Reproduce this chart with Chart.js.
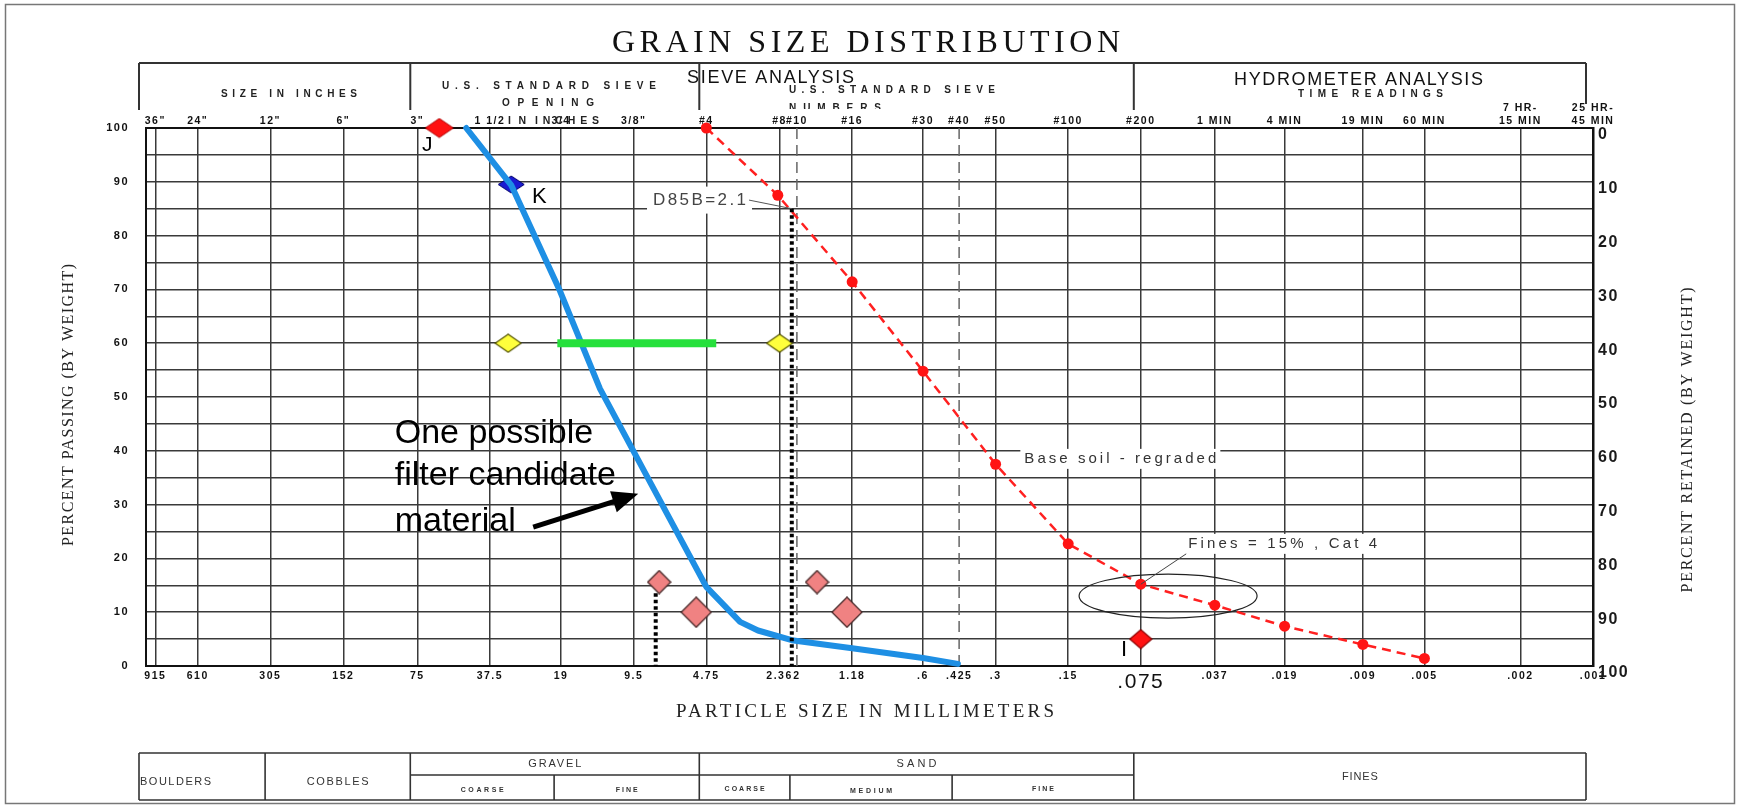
<!DOCTYPE html>
<html><head><meta charset="utf-8">
<style>html,body{margin:0;padding:0;background:#fff}canvas{display:block}</style>
<script src="https://cdn.jsdelivr.net/npm/chart.js@4.4.1/dist/chart.umd.min.js"></script>
</head><body>
<canvas id="c" width="1741" height="805"></canvas>
<script>
// ---------- data ----------
const sieveSizes = [915,610,305,152,75,37.5,19,9.5,4.75,2.36,2,1.18,0.6,0.425,0.3,0.15,0.075,0.037,0.019,0.009,0.005,0.002,0.001];
const mmLabels = ['915','610','305','152','75','37.5','19','9.5','4.75','2.36','2','1.18','.6','.425','.3','.15','.075','.037','.019','.009','.005','.002','.001'];
const sieveLabels = ['36"','24"','12"','6"','3"','1 1/2','3/4','3/8"','#4','#8','#10','#16','#30','#40','#50','#100','#200','1 MIN','4 MIN','19 MIN','60 MIN',['7 HR-','15 MIN'],['25 HR-','45 MIN']];
const dashedSizes = [2, 0.425];

const filterSize    = [47, 30.6, 19.2, 13.1, 4.75, 3.44, 2.9, 2.1, 1.18, 0.6, 0.43];
const filterPassing = [100, 89.4, 69.7, 51.5, 14.7, 8.2, 6.6, 4.8, 3.3, 1.5, 0.4];

const baseSize    = [4.75, 2.4, 1.18, 0.6, 0.3, 0.15, 0.075, 0.037, 0.019, 0.009, 0.005];
const basePassing = [100, 87.5, 71.4, 54.8, 37.5, 22.7, 15.2, 11.3, 7.4, 4.0, 1.4];

const jSize = [60.8], jPassing = [100];
const kSize = [30.6], kPassing = [89.5];
const iSize = [0.075], iPassing = [5];
const yellowSize = [31.5, 2.36], yellowPassing = [60, 60];
const greenSize = [19.7, 4.32], greenPassing = [60, 60];
const pinkSize = [7.45, 5.23, 1.65, 1.24], pinkPassing = [15.6, 10, 15.6, 10];
const d85Size = [2.1, 2.1], d85Passing = [85, 0];
const d15Size = [7.7, 7.7], d15Passing = [13.5, 0];

const headerBounds = [1000, 75, 4.75, 0.075, 0.001];
const tableBounds = [1000, 300, 75, 19, 4.75, 2, 0.425, 0.075, 0.001];

// ---------- helpers ----------
const FONT = 'Liberation Sans';
const SERIF = 'Liberation Serif';
const xy = (xs, ys) => xs.map((x, i) => ({x, y: ys[i]}));

function diamond(w, h, fill, stroke, lw) {
  const c = document.createElement('canvas');
  c.width = w + 2; c.height = h + 2;
  const g = c.getContext('2d');
  const cx = c.width / 2, cy = c.height / 2;
  g.beginPath();
  g.moveTo(cx - w / 2, cy); g.lineTo(cx, cy - h / 2); g.lineTo(cx + w / 2, cy); g.lineTo(cx, cy + h / 2); g.closePath();
  g.fillStyle = fill; g.fill();
  if (stroke) { g.strokeStyle = stroke; g.lineWidth = lw; g.stroke(); }
  return c;
}
const dJ = diamond(28, 19, '#ff1212', '#b00000', 1);
const dK = diamond(26, 17, '#1a1ad2', '#00006a', 1);
const dY = diamond(26, 18, '#ffff3c', '#555500', 1.2);
const dI = diamond(22, 19, '#ff1212', '#8a0000', 1.2);
const dPs = diamond(23, 23, '#f08282', '#4a2a2a', 1.3);
const dPl = diamond(30, 30, '#f08282', '#4a2a2a', 1.3);

function text(ctx, s, x, y, o = {}) {
  ctx.save();
  ctx.translate(x, y);
  if (o.rot) ctx.rotate(o.rot);
  ctx.font = o.font || ('10px ' + FONT);
  ctx.textBaseline = o.base || 'middle';
  ctx.textAlign = 'left';
  ctx.letterSpacing = '0px';
  const w0 = ctx.measureText(s).width;
  const n = s.length;
  let sp = o.spacing || 0;
  if (o.width) sp = (o.width - w0) / Math.max(1, n - 1);
  ctx.letterSpacing = sp + 'px';
  const total = w0 + sp * (n - 1);
  let x0 = 0;
  if (o.align === 'center') x0 = -total / 2; else if (o.align === 'right') x0 = -total;
  if (o.bg) {
    ctx.fillStyle = o.bg;
    ctx.fillRect(x0 - o.padX, -o.bgH / 2, total + 2 * o.padX, o.bgH);
  }
  ctx.fillStyle = o.color || '#111';
  ctx.fillText(s, x0, 0);
  ctx.restore();
  return {left: x + x0, right: x + x0 + total};
}

// ---------- plugins ----------
const spacingPlugin = {
  id: 'spacing',
  beforeDraw(chart) {
    const ctx = chart.ctx;
    ctx.save(); ctx.fillStyle = '#fff'; ctx.fillRect(0, 0, chart.width, chart.height); ctx.restore();
    ctx.letterSpacing = '1.5px';
  },
  afterDraw(chart) { chart.ctx.letterSpacing = '0px'; }
};

const annotPlugin = {
  id: 'annot',
  afterDatasetsDraw(chart) {
    const ctx = chart.ctx, X = chart.scales.x, Y = chart.scales.y;
    const px = v => X.getPixelForValue(v), py = v => Y.getPixelForValue(v);
    ctx.save();
    ctx.letterSpacing = '0px';
    // ellipse round the fines point
    ctx.beginPath();
    ctx.ellipse(px(0.0578), py(13), 89, 22, 0, 0, Math.PI * 2);
    ctx.strokeStyle = '#222'; ctx.lineWidth = 1.2; ctx.stroke();

    // D85 label
    const d = text(ctx, 'D85B=2.1', px(7.9), py(86.6), {font: '17px ' + FONT, width: 93, color: '#444', bg: '#fff', padX: 6, bgH: 27});
    ctx.beginPath(); ctx.moveTo(d.right + 3, py(86.6)); ctx.lineTo(px(2.1), py(85));
    ctx.strokeStyle = '#555'; ctx.lineWidth = 1; ctx.stroke();

    // base soil label
    text(ctx, 'Base soil - regraded', px(0.228), py(38.5), {font: '15px ' + FONT, width: 192, color: '#333', bg: '#fff', padX: 4, bgH: 20});
    // fines label
    const f = text(ctx, 'Fines = 15% , Cat 4', px(0.0477), py(22.7), {font: '15px ' + FONT, width: 189, color: '#333', bg: '#fff', padX: 4, bgH: 20});
    ctx.beginPath(); ctx.moveTo(f.left - 2, py(22.7) + 10); ctx.lineTo(px(0.075), py(15.2));
    ctx.strokeStyle = '#444'; ctx.lineWidth = 1; ctx.stroke();

    // big text
    const lines = ['One possible', 'filter candidate', 'material'];
    const base = [41.4, 33.6, 25.1];
    lines.forEach((s, i) => text(ctx, s, px(93), py(base[i]), {font: '34px ' + FONT, base: 'alphabetic', color: '#000'}));

    // arrow
    const tx = px(24.8), ty = py(25.8), hx = px(9.1), hy = py(32);
    const L = Math.hypot(hx - tx, hy - ty), ux = (hx - tx) / L, uy = (hy - ty) / L;
    ctx.beginPath(); ctx.moveTo(tx, ty); ctx.lineTo(hx - ux * 20, hy - uy * 20);
    ctx.strokeStyle = '#000'; ctx.lineWidth = 5; ctx.stroke();
    ctx.beginPath(); ctx.moveTo(hx, hy);
    ctx.lineTo(hx - ux * 26 - uy * 11, hy - uy * 26 + ux * 11);
    ctx.lineTo(hx - ux * 26 + uy * 11, hy - uy * 26 - ux * 11);
    ctx.closePath(); ctx.fillStyle = '#000'; ctx.fill();

    // point letters
    text(ctx, 'J', px(68.2), py(96.8), {font: '21px ' + FONT, align: 'center', color: '#000'});
    text(ctx, 'K', px(23.4), py(87.2), {font: '22px ' + FONT, align: 'center', color: '#000'});
    text(ctx, 'I', px(0.0879), py(3), {font: '22px ' + FONT, align: 'center', color: '#000'});
    ctx.restore();
  }
};

const furniturePlugin = {
  id: 'furniture',
  afterDraw(chart) {
    const ctx = chart.ctx, X = chart.scales.x;
    const SHIFT = -7;
    const bx = v => X.getPixelForValue(v) + SHIFT;
    ctx.save();
    ctx.letterSpacing = '0px';
    // frame
    ctx.strokeStyle = '#777'; ctx.lineWidth = 1.5;
    ctx.strokeRect(5.5, 4.5, 1729, 799);

    // title
    text(ctx, 'GRAIN SIZE DISTRIBUTION', 612, 44, {font: '32px ' + SERIF, width: 508, color: '#111'});

    // header box
    ctx.strokeStyle = '#333'; ctx.lineWidth = 2;
    ctx.beginPath();
    ctx.moveTo(bx(headerBounds[0]), 63); ctx.lineTo(bx(headerBounds[headerBounds.length - 1]), 63);
    headerBounds.forEach((b, i) => {
      ctx.moveTo(bx(b), 63); ctx.lineTo(bx(b), i === headerBounds.length - 1 ? 104 : 110);
    });
    ctx.stroke();
    const hb = '700 10px ' + FONT;
    text(ctx, 'SIZE IN INCHES', 289, 94, {font: hb, width: 136, align: 'center', color: '#222'});
    text(ctx, 'U.S. STANDARD SIEVE', 549, 86, {font: hb, width: 214, align: 'center', color: '#222'});
    text(ctx, 'OPENING', 548, 103, {font: hb, width: 92, align: 'center', color: '#222'});
    text(ctx, 'SIEVE ANALYSIS', 687, 78, {font: '18px ' + FONT, width: 167, color: '#111'});
    text(ctx, 'U.S. STANDARD SIEVE', 789, 90, {font: hb, width: 206, color: '#222'});
    ctx.save(); ctx.beginPath(); ctx.rect(0, 0, chart.width, 109); ctx.clip();
    text(ctx, 'NUMBERS', 789, 108, {font: hb, width: 92, color: '#222'});
    ctx.restore();
    text(ctx, 'HYDROMETER ANALYSIS', 1234, 80, {font: '18px ' + FONT, width: 249, color: '#111'});
    text(ctx, 'TIME READINGS', 1298, 94, {font: hb, width: 145, color: '#222'});
    text(ctx, 'IN', 508, 121, {font: '700 10.5px ' + FONT, width: 18, color: '#222'});
    text(ctx, 'INCHES', 535, 121, {font: '700 10.5px ' + FONT, width: 64, color: '#222'});

    // axis titles
    text(ctx, 'PARTICLE SIZE IN MILLIMETERS', 676, 712, {font: '19px ' + SERIF, width: 378, color: '#222'});
    text(ctx, 'PERCENT PASSING (BY WEIGHT)', 69, 405, {font: '16px ' + SERIF, width: 282, align: 'center', rot: -Math.PI / 2, color: '#222'});
    text(ctx, 'PERCENT RETAINED (BY WEIGHT)', 1688, 440, {font: '16px ' + SERIF, width: 305, align: 'center', rot: -Math.PI / 2, color: '#222'});

    // classification table
    const T = 753, M = 775, B = 800;
    const c = tableBounds.map(bx);
    ctx.strokeStyle = '#333'; ctx.lineWidth = 1.6;
    ctx.beginPath();
    ctx.moveTo(c[0], T); ctx.lineTo(c[8], T);
    ctx.moveTo(c[0], B); ctx.lineTo(c[8], B);
    ctx.moveTo(c[2], M); ctx.lineTo(c[7], M);
    [0, 1, 2, 4, 7, 8].forEach(i => { ctx.moveTo(c[i], T); ctx.lineTo(c[i], B); });
    [3, 5, 6].forEach(i => { ctx.moveTo(c[i], M); ctx.lineTo(c[i], B); });
    ctx.stroke();
    const tf = '11px ' + FONT, sf = '700 7px ' + FONT;
    const mid = (a, b) => (c[a] + c[b]) / 2;
    text(ctx, 'BOULDERS', c[0] + 1, 782, {font: tf, width: 71, color: '#333'});
    text(ctx, 'COBBLES', mid(1, 2), 782, {font: tf, width: 62, align: 'center', color: '#333'});
    text(ctx, 'GRAVEL', mid(2, 4), 764, {font: tf, width: 53, align: 'center', color: '#333'});
    text(ctx, 'COARSE', mid(2, 3), 790, {font: sf, width: 43, align: 'center', color: '#333'});
    text(ctx, 'FINE', mid(3, 4), 790, {font: sf, width: 22, align: 'center', color: '#333'});
    text(ctx, 'SAND', mid(4, 7), 764, {font: tf, width: 40, align: 'center', color: '#333'});
    text(ctx, 'COARSE', mid(4, 5), 789, {font: sf, width: 40, align: 'center', color: '#333'});
    text(ctx, 'MEDIUM', mid(5, 6), 791, {font: sf, width: 42, align: 'center', color: '#333'});
    text(ctx, 'FINE', mid(6, 7), 789, {font: sf, width: 22, align: 'center', color: '#333'});
    text(ctx, 'FINES', mid(7, 8), 777, {font: tf, width: 36, align: 'center', color: '#333'});
    ctx.restore();
  }
};

// ---------- chart ----------
const logX = {
  type: 'logarithmic', reverse: true, min: 0.001, max: 1000,
  afterBuildTicks: s => { s.ticks = sieveSizes.map(v => ({value: v})); }
};

new Chart(document.getElementById('c'), {
  type: 'scatter',
  data: {
    datasets: [
      {label: 'D85B', data: xy(d85Size, d85Passing), showLine: true, borderColor: '#000', borderWidth: 4, borderDash: [3.5, 3], pointRadius: 0, order: 1, clip: false},
      {label: 'D15', data: xy(d15Size, d15Passing), showLine: true, borderColor: '#000', borderWidth: 4, borderDash: [3.5, 3], pointRadius: 0, order: 1, clip: false},
      {label: 'J', data: xy(jSize, jPassing), pointStyle: dJ, pointRadius: 10, order: 2, clip: false},
      {label: 'I', data: xy(iSize, iPassing), pointStyle: dI, pointRadius: 10, order: 3, clip: false},
      {label: 'Base soil - regraded', data: xy(baseSize, basePassing), showLine: true, borderColor: '#ff2020', borderWidth: 2.5, borderDash: [9, 6],
        pointRadius: 5.5, pointBackgroundColor: '#ff1414', pointBorderWidth: 0, order: 4, clip: false},
      {label: 'Pink', data: xy(pinkSize, pinkPassing), pointStyle: [dPs, dPl, dPs, dPl], pointRadius: 12, order: 5, clip: false},
      {label: 'Yellow', data: xy(yellowSize, yellowPassing), pointStyle: dY, pointRadius: 10, order: 6, clip: false},
      {label: 'Green', data: xy(greenSize, greenPassing), showLine: true, borderColor: '#26e03c', borderWidth: 8, borderCapStyle: 'butt', pointRadius: 0, order: 7, clip: false},
      {label: 'Filter candidate', data: xy(filterSize, filterPassing), showLine: true, borderColor: '#1e8fe4', borderWidth: 6, borderJoinStyle: 'round', borderCapStyle: 'round', pointRadius: 0, order: 8, clip: false},
      {label: 'K', data: xy(kSize, kPassing), pointStyle: dK, pointRadius: 10, order: 9, clip: false},
      ...dashedSizes.map(s => ({label: 'grid ' + s, data: xy([s, s], [0, 100]), showLine: true, borderColor: '#666', borderWidth: 1.5, borderDash: [11, 6], pointRadius: 0, order: 10, clip: false}))
    ]
  },
  options: {
    responsive: false, animation: false, devicePixelRatio: 1,
    layout: {padding: 0},
    plugins: {legend: {display: false}, tooltip: {enabled: false}},
    scales: {
      x: Object.assign({}, logX, {
        position: 'bottom',
        afterFit: s => { s.height = 139; },
        grid: {drawTicks: false, lineWidth: 1.5, color: c => (c.tick && dashedSizes.includes(c.tick.value)) ? 'rgba(0,0,0,0)' : '#3a3a3a'},
        border: {color: '#111', width: 2},
        ticks: {autoSkip: false, maxRotation: 0, minRotation: 0, padding: 4, color: '#111',
          font: c => c.index === 16 ? {family: FONT, size: 21, weight: 'normal'} : {family: FONT, size: 10.5, weight: 'bold'},
          callback: (v, i) => mmLabels[i]}
      }),
      x2: Object.assign({}, logX, {
        position: 'top',
        afterFit: s => { s.height = 128; },
        grid: {display: false, drawOnChartArea: false, drawTicks: false},
        border: {display: true, color: '#111', width: 2},
        ticks: {autoSkip: false, maxRotation: 0, minRotation: 0, padding: 1, color: '#111',
          font: {family: FONT, size: 10.5, weight: 'bold'}, callback: (v, i) => sieveLabels[i]}
      }),
      y: {
        type: 'linear', position: 'left', min: 0, max: 100,
        afterFit: s => { s.width = 146; },
        grid: {drawTicks: false, lineWidth: 1.5, color: '#3a3a3a'},
        border: {color: '#111', width: 2},
        ticks: {stepSize: 5, autoSkip: false, padding: 17, color: '#111',
          font: {family: FONT, size: 11, weight: 'bold'},
          callback: v => (v % 10 === 0 ? String(v) : '')}
      },
      y2: {
        type: 'linear', position: 'right', reverse: true, min: 0, max: 100,
        afterFit: s => { s.width = 148; },
        grid: {drawOnChartArea: false, drawTicks: false},
        border: {color: '#111', width: 2.5},
        ticks: {stepSize: 10, padding: 5, labelOffset: 7, color: '#1a1a1a',
          font: {family: FONT, size: 16, weight: 'bold'}}
      }
    }
  },
  plugins: [spacingPlugin, annotPlugin, furniturePlugin]
});
</script>
</body></html>
